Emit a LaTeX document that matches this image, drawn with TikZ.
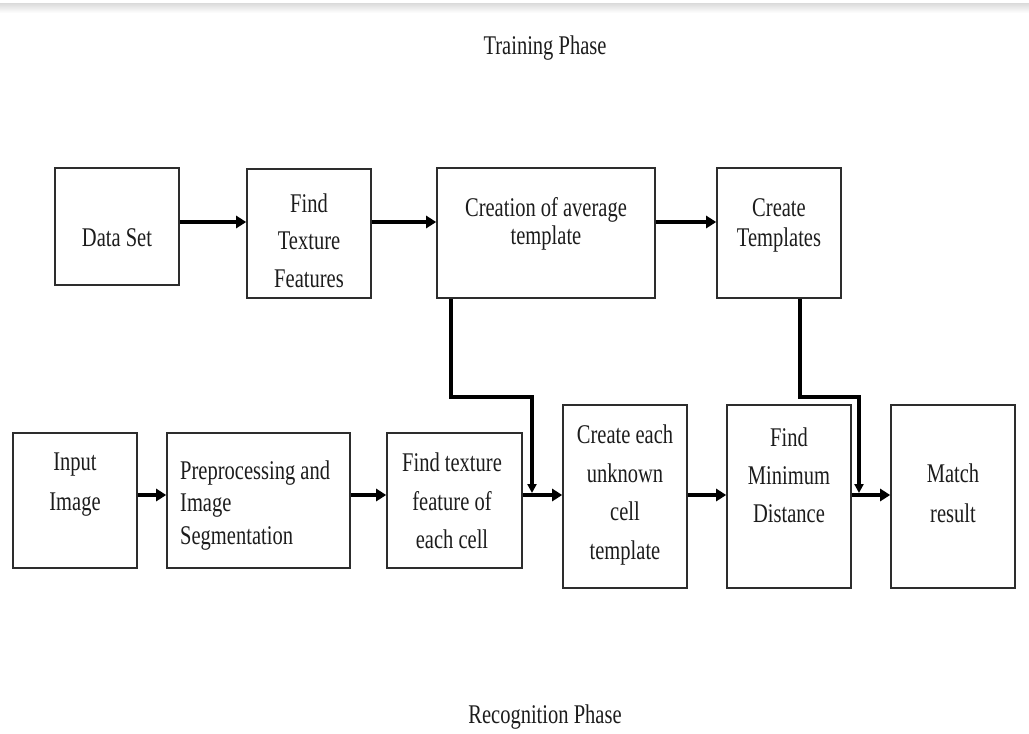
\documentclass[tikz,border=0pt]{standalone}
\usepackage{fontspec}
\setmainfont{Liberation Serif}[FakeStretch=0.76]
\usetikzlibrary{arrows.meta,positioning,calc}
\definecolor{LineGray}{RGB}{45,45,45}
\definecolor{InkBlack}{RGB}{28,28,28}
\definecolor{BandGray}{RGB}{218,218,218}

\begin{document}
\begin{tikzpicture}[x=1pt,y=-1pt,
  box/.style={draw=LineGray,line width=1.6pt,inner sep=0pt},
  txt/.style={text=InkBlack,align=center,inner sep=0pt,font=\fontsize{27}{#1}\selectfont},
  txt/.default=38,
  flow/.style={-{Triangle[length=10pt,width=12pt]},line width=4pt},
  feed/.style={-{Triangle[length=9pt,width=9pt]},line width=3.2pt,shorten >=2pt}]
\useasboundingbox (0,0) rectangle (1029,734);
\shade[top color=BandGray,bottom color=white] (0,3) rectangle (1029,13);

% training row
\node[box,minimum width=124pt,minimum height=117pt] (dataset) at (117,226.5) {};
\node[box,minimum width=124pt,minimum height=129pt] (findtex) at (309,233.5) {};
\node[box,minimum width=218pt,minimum height=130pt] (avg) at (546,233) {};
\node[box,minimum width=124pt,minimum height=130pt] (templ) at (779,233) {};

\node[txt] (dataset-t) at (117,238) {Data Set};
\node[txt=37.5] (findtex-t) at (309,240.5) {Find\\Texture\\Features};
\node[txt=28] (avg-t) at (546,224) {Creation of average\\template};
\node[txt=30] (templ-t) at (779,225) {Create\\Templates};

% recognition row
\node[box,minimum width=124pt,minimum height=135pt] (input) at (75,500.5) {};
\node[box,minimum width=183pt,minimum height=135pt] (preproc) at (258.5,500.5) {};
\node[box,minimum width=135pt,minimum height=135pt] (findcell) at (454.5,500.5) {};
\node[box,minimum width=124pt,minimum height=183pt] (unknown) at (625,496.5) {};
\node[box,minimum width=124pt,minimum height=183pt] (mindist) at (789,496.5) {};
\node[box,minimum width=124pt,minimum height=183pt] (match) at (953,496.5) {};

\node[txt=40] (input-t) at (75,485) {Input\\Image};
\node[txt=32.5,align=left,anchor=west] (preproc-t) at (180,505.5) {Preprocessing and\\Image\\Segmentation};
\node[txt=38.5] (findcell-t) at (452,501) {Find texture\\feature of\\each cell};
\node[txt=38.7] (unknown-t) at (625,495) {Create each\\unknown\\cell\\template};
\node[txt=38] (mindist-t) at (789,475) {Find\\Minimum\\Distance};
\node[txt=40] (match-t) at (953,493) {Match\\result};

\node[txt] (train) at (545,48) {Training Phase};
\node[txt] (recog) at (545,717) {Recognition Phase};

% connectors
\coordinate (toprow) at (0,222);
\coordinate (botrow) at (0,495);
\draw[flow] (dataset.east |- toprow) -- (findtex.west |- toprow);
\draw[flow] (findtex.east |- toprow) -- (avg.west |- toprow);
\draw[flow] (avg.east |- toprow) -- (templ.west |- toprow);
\foreach \a/\b in {input/preproc,preproc/findcell,findcell/unknown,unknown/mindist,mindist/match}
  \draw[flow] (\a.east |- botrow) -- (\b.west |- botrow);

\coordinate (avgknee) at (532,397);
\coordinate (tplknee) at (859,397);
\draw[feed] (avg.south -| 451,0) |- (avgknee) -- (avgknee |- botrow);
\draw[feed] (templ.south -| 800,0) |- (tplknee) -- (tplknee |- botrow);
\end{tikzpicture}
\end{document}
